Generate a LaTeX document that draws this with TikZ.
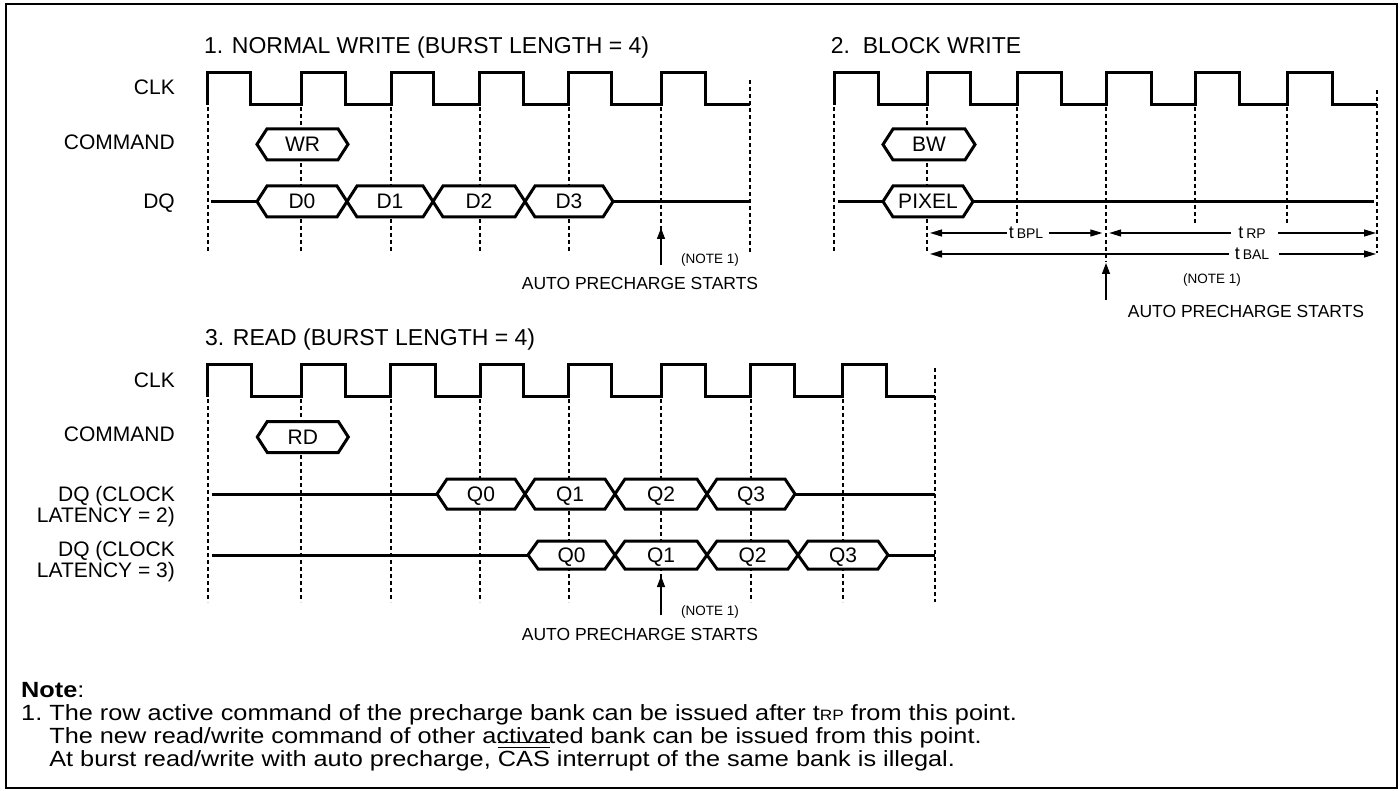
\documentclass[tikz,border=0pt]{standalone}
\usepackage{fontspec}
\setmainfont{Liberation Sans}
\newfontfamily\notefamily[FakeStretch=1.15]{Liberation Sans}
\usetikzlibrary{arrows.meta}
\newcommand{\buscell}[6]{% name, x1, x2, yc, h, label
  \draw[busline] (#2,#4) -- ({#2+10},{#4-#5}) -- ({#3-10},{#4-#5}) -- (#3,#4) -- ({#3-10},{#4+#5}) -- ({#2+10},{#4+#5}) -- cycle;
  \node[celltxt,anchor=base] (#1) at ({(#2+#3)/2},{#4+7.5}) {#6};}
\newcommand{\casbar}{\setbox0\hbox{CAS}\rlap{\rule[18pt]{\wd0}{1pt}}\rlap{\rule[23pt]{\wd0}{1pt}}\box0}
\newcommand{\smallsub}[1]{{\fontsize{14}{14}\selectfont #1}}
\newcommand{\notesub}[1]{{\fontsize{15}{15}\selectfont #1}}
\tikzset{
  frame/.style={line width=1.5pt},
  clk/.style={line width=3pt, line join=miter},
  busline/.style={line width=3pt, line join=miter, fill=white},
  sigline/.style={line width=3pt},
  guide/.style={line width=1.3pt, dash pattern=on 4pt off 3pt},
  dimarrow/.style={line width=1.3pt, -{Triangle[length=12pt,width=7pt]}},
  uparrow/.style={line width=1.3pt, -{Triangle[length=11pt,width=8pt]}},
  lbl/.style={font=\fontsize{21}{23}\selectfont, anchor=base east, inner sep=0pt},
  ttl/.style={font=\fontsize{23}{26}\selectfont, anchor=base west, inner sep=0pt},
  celltxt/.style={font=\fontsize{21}{23}\selectfont, inner sep=0pt},
  apstext/.style={font=\fontsize{17.5}{19}\selectfont, anchor=base, inner sep=0pt},
  notetag/.style={font=\fontsize{13.5}{15}\selectfont, anchor=base, inner sep=0pt},
  dimtxt/.style={font=\fontsize{18}{18}\selectfont, anchor=base, inner sep=0pt},
  notefont/.style={font=\notefamily\fontsize{22}{23}\selectfont, anchor=base west, inner sep=0pt},
}
\begin{document}
\begin{tikzpicture}[x=1pt,y=-1pt]
\useasboundingbox (0,0) rectangle (1400,791);
\draw[frame] (6,4) rectangle (1397,788);

% ---------------- titles
\node[ttl] (t1) at (204,53.3) {1. NORMAL WRITE (BURST LENGTH = 4)};
\node[ttl] (t2) at (830.6,53.3) {2.\ \ BLOCK WRITE};
\node[ttl] (t3) at (205,345.7) {3. READ (BURST LENGTH = 4)};

% ---------------- labels
\node[lbl] (a1) at (175,95) {CLK};
\node[lbl] (a2) at (175,149.3) {COMMAND};
\node[lbl] (a3) at (175,208.5) {DQ};
\node[lbl] (b1) at (175,387.3) {CLK};
\node[lbl] (b2) at (175,441) {COMMAND};
\node[lbl] (b3) at (175,501) {DQ (CLOCK};
\node[lbl] (b4) at (175,522.5) {LATENCY = 2)};
\node[lbl] (b5) at (175,556) {DQ (CLOCK};
\node[lbl] (b6) at (175,577.5) {LATENCY = 3)};

% ================= section 1
\draw[clk] (207,105) \foreach \r/\f in {207/250.7,301/345,391/433.3,479.3/523.3,568.3/611.7,661/705}{ -- (\r,105) -- (\r,72.7) -- (\f,72.7) -- (\f,105)} -- (750,105);
\foreach \x in {208,301,391,480,569,661} \draw[guide] (\x,107) -- (\x,253);
\draw[guide] (750,80) -- (750,253);
\buscell{wr}{257}{348}{144.3}{15.5}{WR}
\draw[sigline] (211,201.5) -- (257,201.5);
\buscell{d0}{257}{347}{201.5}{15.5}{D0}
\buscell{d1}{347}{433}{201.5}{15.5}{D1}
\buscell{d2}{433}{525}{201.5}{15.5}{D2}
\buscell{d3}{525}{613}{201.5}{15.5}{D3}
\draw[sigline] (613,201.5) -- (750,201.5);
\coordinate (p1s) at (661,265);
\coordinate (p1e) at (661,228);
\draw[uparrow] (p1s) -- (p1e);
\node[notetag] (n1a) at (710,264) {(NOTE 1)};
\node[apstext] (ap1) at (640,290) {AUTO PRECHARGE STARTS};

% ================= section 2
\draw[clk] (834,105) \foreach \r/\f in {834/878,927/970,1017/1061,1106/1151,1195/1239,1287/1332}{ -- (\r,105) -- (\r,72.7) -- (\f,72.7) -- (\f,105)} -- (1377,105);
\foreach \x/\e in {834/253,927/253,1017/223,1106/262,1195/225,1287/225} \draw[guide] (\x,107) -- (\x,\e);
\draw[guide] (1377,90) -- (1377,253);
\buscell{bw}{883}{975}{144.5}{15.5}{BW}
\draw[sigline] (838,201.5) -- (883,201.5);
\buscell{px}{883}{973}{201.5}{15.5}{PIXEL}
\draw[sigline] (973,201.5) -- (1374,201.5);
% dimensions
\coordinate (bplL) at (930,233);
\coordinate (bplR) at (1102.3,233);
\coordinate (rpL) at (1109.2,233);
\coordinate (rpR) at (1376,233);
\coordinate (balL) at (930,254);
\coordinate (balR) at (1376,254);
\node[dimtxt] (tbpl) at (1026,239) {t\,\smallsub{BPL}};
\node[dimtxt] (trp) at (1252,239) {t\,\smallsub{RP}};
\node[dimtxt] (tbal) at (1252,260) {t\,\smallsub{BAL}};
\draw[dimarrow] (1006.6,233) -- (bplL);
\draw[dimarrow] (1048.7,233) -- (bplR);
\draw[dimarrow] (1230.5,233) -- (rpL);
\draw[dimarrow] (1278,233) -- (rpR);
\draw[dimarrow] (1228.6,254) -- (balL);
\draw[dimarrow] (1279,254) -- (balR);
\coordinate (p2s) at (1106,300);
\coordinate (p2e) at (1106,263);
\draw[uparrow] (p2s) -- (p2e);
\node[notetag] (n2a) at (1212,284) {(NOTE 1)};
\node[apstext] (ap2) at (1246,318) {AUTO PRECHARGE STARTS};

% ================= section 3
\draw[clk] (207,396.7) \foreach \r/\f in {207/251.7,301/345,390/435,480/523.3,568.3/611.7,661/705,750/794,842.7/886.7}{ -- (\r,396.7) -- (\r,365) -- (\f,365) -- (\f,396.7)} -- (935,396.7);
\foreach \x in {208,301,391,480,569,661,751,843} \draw[guide] (\x,399) -- (\x,602);
\draw[guide] (935,368) -- (935,602);
\buscell{rd}{257.3}{348.3}{437}{15.5}{RD}
\draw[sigline] (211.7,494) -- (437,494);
\buscell{q0a}{437}{525}{494}{15}{Q0}
\buscell{q1a}{525}{615}{494}{15}{Q1}
\buscell{q2a}{615}{707}{494}{15}{Q2}
\buscell{q3a}{707}{795}{494}{15}{Q3}
\draw[sigline] (795,494) -- (935,494);
\draw[sigline] (211.7,555) -- (528,555);
\buscell{q0b}{528}{615}{555}{14}{Q0}
\buscell{q1b}{615}{707}{555}{14}{Q1}
\buscell{q2b}{707}{798}{555}{14}{Q2}
\buscell{q3b}{798}{888}{555}{14}{Q3}
\draw[sigline] (888,555) -- (935,555);
\coordinate (p3s) at (661,615);
\coordinate (p3e) at (661,576);
\draw[uparrow] (p3s) -- (p3e);
\node[notetag] (n3a) at (710,615) {(NOTE 1)};
\node[apstext] (ap3) at (640,640) {AUTO PRECHARGE STARTS};

% ================= note
\node[notefont] (note) at (21,697) {\textbf{Note}:};
\node[notefont] (nl1) at (21,720) {1.\ The row active command of the precharge bank can be issued after t\notesub{RP} from this point.};
\node[notefont] (nl2) at (21,743) {\hphantom{1.\ }The new read/write command of other activated bank can be issued from this point.};
\node[notefont] (nl3) at (21,766) {\hphantom{1.\ }At burst read/write with auto precharge, \casbar{} interrupt of the same bank is illegal.};
\end{tikzpicture}
\end{document}
